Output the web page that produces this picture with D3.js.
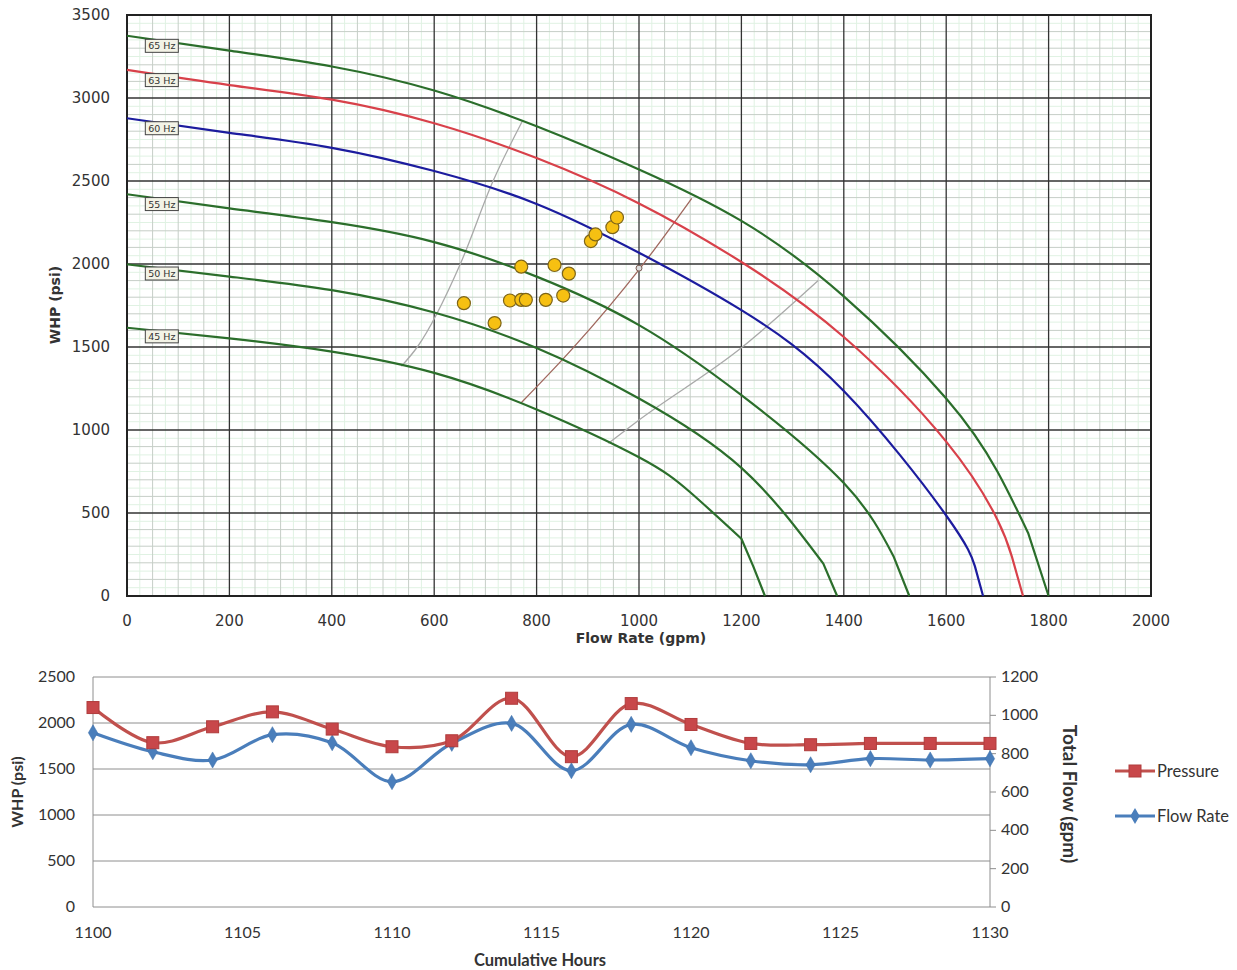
<!DOCTYPE html>
<html>
<head>
<meta charset="utf-8">
<script src="https://cdn.jsdelivr.net/npm/d3@7"></script>
<style>
  body { margin: 0; background: #fff; }
  svg { display: block; }
</style>
</head>
<body>
<svg id="chart" width="1237" height="970"></svg>
<script>
// ---- pump curve data (flow gpm, WHP psi) ----
var hz65 = [[0,3375],[200,3285],[400,3190],[600,3045],[800,2830],[1000,2570],[1200,2260],[1400,1805],[1600,1190],[1700,750],[1760,380],[1800,0]];
var hz63 = [[0,3169],[200,3078],[400,2990],[600,2848],[800,2638],[1000,2365],[1200,2012],[1400,1560],[1600,930],[1700,460],[1728,240],[1750,0]];
var hz60 = [[0,2878],[200,2790],[400,2700],[600,2560],[800,2362],[1000,2068],[1200,1722],[1400,1235],[1600,485],[1656,180],[1672,0]];
var hz55 = [[0,2420],[200,2335],[400,2252],[600,2132],[800,1924],[1000,1632],[1200,1210],[1400,680],[1497,240],[1528,0]];
var hz50 = [[0,1998],[200,1924],[400,1843],[600,1708],[800,1494],[1000,1190],[1200,772],[1360,195],[1387,0]];
var hz45 = [[0,1616],[200,1552],[400,1472],[600,1344],[800,1124],[1000,836],[1100,625],[1200,345],[1223,180],[1246,0]];
var hzCurves = [hz65, hz63, hz60, hz55, hz50, hz45];
var hzNames = ['65 Hz', '63 Hz', '60 Hz', '55 Hz', '50 Hz', '45 Hz'];
var hzColors = ['#2b6e2b', '#d8414a', '#1c1c9e', '#2b6e2b', '#2b6e2b', '#2b6e2b'];
var hzTail = [1, 1, 1, 1, 1, 2];   // straight run-out segments at the end

// operating range lines
var minLine = [[536,1384],[567,1500],[651,2000],[715,2500],[772,2860]];
var bepLine = [[770,1164],[870,1490],[1002,1974],[1103,2396]];
var maxLine = [[940,920],[1000,1060],[1200,1495],[1350,1900]];
var bepPoint = [1000, 1975];

// measured operating points
var pointFlow = [658, 718, 748, 770, 779, 818, 852, 770, 835, 863, 906, 915, 948, 957];
var pointWhp  = [1764, 1644, 1780, 1784, 1784, 1784, 1810, 1984, 1994, 1942, 2138, 2178, 2222, 2280];

// ---- time series data ----
var hours = [1100,1102,1104,1106,1108,1110,1112,1114,1116,1118,1120,1122,1124,1126,1128,1130];
var pressure = [2168,1786,1959,2121,1934,1742,1807,2269,1634,2211,1984,1778,1764,1778,1778,1778];
var flowRate = [909,810,767,899,857,654,854,958,711,953,831,763,742,774,767,774];

var svg = d3.select('#chart');

// =================== pump curve chart ===================
var x = d3.scaleLinear().domain([0, 2000]).range([127, 1151]);
var y = d3.scaleLinear().domain([0, 3500]).range([596, 15]);

var upper = svg.append('g');

// fine green grid
upper.append('g').selectAll('line')
  .data(d3.range(25, 2000, 50))
  .enter().append('line')
    .attr('x1', function(d) { return x(d); }).attr('x2', function(d) { return x(d); })
    .attr('y1', y(0)).attr('y2', y(3500))
    .style('stroke', '#e0f2e3').style('stroke-width', 1);
upper.append('g').selectAll('line')
  .data(d3.range(50, 3500, 100))
  .enter().append('line')
    .attr('y1', function(d) { return y(d); }).attr('y2', function(d) { return y(d); })
    .attr('x1', x(0)).attr('x2', x(2000))
    .style('stroke', '#e0f2e3').style('stroke-width', 1);

// minor gray grid
upper.append('g').selectAll('line')
  .data(d3.range(50, 2000, 50).filter(function(d) { return d % 200 !== 0; }))
  .enter().append('line')
    .attr('x1', function(d) { return x(d); }).attr('x2', function(d) { return x(d); })
    .attr('y1', y(0)).attr('y2', y(3500))
    .style('stroke', '#c6cec7').style('stroke-width', 1);
upper.append('g').selectAll('line')
  .data(d3.range(100, 3500, 100).filter(function(d) { return d % 500 !== 0; }))
  .enter().append('line')
    .attr('y1', function(d) { return y(d); }).attr('y2', function(d) { return y(d); })
    .attr('x1', x(0)).attr('x2', x(2000))
    .style('stroke', '#c6cec7').style('stroke-width', 1);

// major grid
upper.append('g').selectAll('line')
  .data(x.ticks(10))
  .enter().append('line')
    .attr('x1', function(d) { return x(d); }).attr('x2', function(d) { return x(d); })
    .attr('y1', y(0)).attr('y2', y(3500))
    .style('stroke', '#333').style('stroke-width', 1.3);
upper.append('g').selectAll('line')
  .data(y.ticks(7))
  .enter().append('line')
    .attr('y1', function(d) { return y(d); }).attr('y2', function(d) { return y(d); })
    .attr('x1', x(0)).attr('x2', x(2000))
    .style('stroke', '#333').style('stroke-width', 1.3);

// frame
upper.append('rect')
  .attr('x', x(0)).attr('y', y(3500))
  .attr('width', x(2000) - x(0)).attr('height', y(0) - y(3500))
  .style('fill', 'none').style('stroke', '#222').style('stroke-width', 2);

var line = d3.line()
  .x(function(d) { return x(d[0]); })
  .y(function(d) { return y(d[1]); })
  .curve(d3.curveMonotoneX);

var bodyLine = d3.line()
  .x(function(d) { return x(d[0]); })
  .y(function(d) { return y(d[1]); })
  .curve(d3.curveNatural);

function pumpPath(d, k) {
  var n = d.length, t = hzTail[k];
  var p = bodyLine(d.slice(0, n - t));
  for (var i = n - t; i < n; i++) {
    p += 'L' + x(d[i][0]) + ',' + y(d[i][1]);
  }
  return p;
}

// operating range lines
upper.append('path').attr('d', line(minLine))
  .style('fill', 'none').style('stroke', '#a9a9a9').style('stroke-width', 1.3);
upper.append('path').attr('d', line(bepLine))
  .style('fill', 'none').style('stroke', '#a0685e').style('stroke-width', 1.3);
upper.append('path').attr('d', line(maxLine))
  .style('fill', 'none').style('stroke', '#a9a9a9').style('stroke-width', 1.3);

// Hz curves
upper.append('g').selectAll('path')
  .data(hzCurves)
  .enter().append('path')
    .attr('d', pumpPath)
    .style('fill', 'none')
    .style('stroke', function(d, i) { return hzColors[i]; })
    .style('stroke-width', 2.2)
    .style('stroke-linejoin', 'round');

// BEP marker
upper.append('circle')
  .attr('cx', x(bepPoint[0])).attr('cy', y(bepPoint[1])).attr('r', 3)
  .style('fill', '#ddd').style('stroke', '#7a5a50').style('stroke-width', 1);

// measured points
upper.append('g').selectAll('circle')
  .data(pointFlow)
  .enter().append('circle')
    .attr('cx', function(d) { return x(d); })
    .attr('cy', function(d, i) { return y(pointWhp[i]); })
    .attr('r', 6.5)
    .style('fill', '#f6c012')
    .style('stroke', '#7d6418')
    .style('stroke-width', 1.2);

// Hz labels
var labelFlow = 68;
var labels = upper.append('g').selectAll('g')
  .data(hzCurves)
  .enter().append('g')
    .attr('transform', function(d) {
      var v = d[0][1] + (d[1][1] - d[0][1]) * (labelFlow - d[0][0]) / (d[1][0] - d[0][0]);
      return 'translate(' + x(labelFlow) + ',' + (y(v) + 5) + ')';
    });
labels.append('rect')
  .attr('x', -16.5).attr('y', -6.5).attr('width', 33).attr('height', 13)
  .style('fill', '#f3f3e6').style('stroke', '#444').style('stroke-width', 1);
labels.append('text')
  .attr('y', 3.5)
  .style('font-family', 'DejaVu Sans, sans-serif')
  .style('font-size', '9.5px')
  .style('fill', '#333')
  .style('text-anchor', 'middle')
  .text(function(d, i) { return hzNames[i]; });

// axes labels
upper.append('g').selectAll('text')
  .data(x.ticks(10))
  .enter().append('text')
    .attr('x', function(d) { return x(d); })
    .attr('y', 626)
    .style('font-family', 'DejaVu Sans, sans-serif')
    .style('font-size', '15px')
    .style('fill', '#333')
    .style('text-anchor', 'middle')
    .text(function(d) { return d; });
upper.append('g').selectAll('text')
  .data(y.ticks(7))
  .enter().append('text')
    .attr('x', 110)
    .attr('y', function(d) { return y(d) + 5; })
    .style('font-family', 'DejaVu Sans, sans-serif')
    .style('font-size', '15px')
    .style('fill', '#333')
    .style('text-anchor', 'end')
    .text(function(d) { return d; });

upper.append('text')
  .attr('x', 641).attr('y', 643)
  .style('font-family', 'DejaVu Sans, sans-serif')
  .style('font-size', '14px').style('font-weight', 'bold')
  .style('fill', '#333').style('text-anchor', 'middle')
  .text('Flow Rate (gpm)');
upper.append('text')
  .attr('transform', 'translate(60,305) rotate(-90)')
  .style('font-family', 'DejaVu Sans, sans-serif')
  .style('font-size', '14px').style('font-weight', 'bold')
  .style('fill', '#333').style('text-anchor', 'middle')
  .text('WHP (psi)');

// =================== time series chart ===================
var bx = d3.scaleLinear().domain([1100, 1130]).range([93, 990]);
var byL = d3.scaleLinear().domain([0, 2500]).range([907, 677]);
var byR = d3.scaleLinear().domain([0, 1200]).range([907, 677]);

var lower = svg.append('g');
var font2 = 'Lato, Open Sans, sans-serif';

lower.append('g').selectAll('line')
  .data(byL.ticks(5))
  .enter().append('line')
    .attr('x1', bx(1100)).attr('x2', bx(1130))
    .attr('y1', function(d) { return byL(d); }).attr('y2', function(d) { return byL(d); })
    .style('stroke', '#8e8e8e').style('stroke-width', 1);
lower.append('line')
  .attr('x1', bx(1100)).attr('x2', bx(1100)).attr('y1', byL(0)).attr('y2', byL(2500))
  .style('stroke', '#8e8e8e');
lower.append('line')
  .attr('x1', bx(1130)).attr('x2', bx(1130)).attr('y1', byL(0)).attr('y2', byL(2500))
  .style('stroke', '#8e8e8e');
lower.append('g').selectAll('line')
  .data(byR.ticks(6))
  .enter().append('line')
    .attr('x1', bx(1130)).attr('x2', bx(1130) + 6)
    .attr('y1', function(d) { return byR(d); }).attr('y2', function(d) { return byR(d); })
    .style('stroke', '#8e8e8e');

lower.append('g').selectAll('text')
  .data(byL.ticks(5))
  .enter().append('text')
    .attr('x', 75).attr('y', function(d) { return byL(d) + 5; })
    .style('font-family', font2).style('font-size', '16px').style('fill', '#333')
    .style('text-anchor', 'end')
    .text(function(d) { return d; });
lower.append('g').selectAll('text')
  .data(byR.ticks(6))
  .enter().append('text')
    .attr('x', 1001).attr('y', function(d) { return byR(d) + 5; })
    .style('font-family', font2).style('font-size', '16px').style('fill', '#333')
    .style('text-anchor', 'start')
    .text(function(d) { return d; });
lower.append('g').selectAll('text')
  .data(d3.range(1100, 1131, 5))
  .enter().append('text')
    .attr('x', function(d) { return bx(d); }).attr('y', 938)
    .style('font-family', font2).style('font-size', '16px').style('fill', '#333')
    .style('text-anchor', 'middle')
    .text(function(d) { return d; });

lower.append('text')
  .attr('x', 540).attr('y', 966)
  .style('font-family', font2).style('font-size', '16.5px').style('font-weight', 'bold')
  .style('fill', '#333').style('text-anchor', 'middle')
  .text('Cumulative Hours');
lower.append('text')
  .attr('transform', 'translate(23,792) rotate(-90)')
  .style('font-family', font2).style('font-size', '16px').style('font-weight', 'bold')
  .style('fill', '#333').style('text-anchor', 'middle')
  .text('WHP (psi)');
lower.append('text')
  .attr('transform', 'translate(1063,794) rotate(90)')
  .style('font-family', font2).style('font-size', '19px').style('font-weight', 'bold')
  .style('fill', '#333').style('text-anchor', 'middle')
  .text('Total Flow (gpm)');

var redLine = d3.line()
  .x(function(d, i) { return bx(hours[i]); })
  .y(function(d) { return byL(d); })
  .curve(d3.curveCatmullRom.alpha(0.5));
var blueLine = d3.line()
  .x(function(d, i) { return bx(hours[i]); })
  .y(function(d) { return byR(d); })
  .curve(d3.curveCatmullRom.alpha(0.5));

lower.append('path').attr('d', blueLine(flowRate))
  .style('fill', 'none').style('stroke', '#4a7ebb').style('stroke-width', 3.2);
lower.append('g').selectAll('path')
  .data(flowRate)
  .enter().append('path')
    .attr('transform', function(d, i) { return 'translate(' + bx(hours[i]) + ',' + byR(d) + ')'; })
    .attr('d', d3.symbol().type(d3.symbolDiamond).size(75))
    .style('fill', '#4a7ebb').style('stroke', '#3d6ea8').style('stroke-width', 0.5);

lower.append('path').attr('d', redLine(pressure))
  .style('fill', 'none').style('stroke', '#c0504d').style('stroke-width', 3.2);
lower.append('g').selectAll('rect')
  .data(pressure)
  .enter().append('rect')
    .attr('x', function(d, i) { return bx(hours[i]) - 6; })
    .attr('y', function(d) { return byL(d) - 6; })
    .attr('width', 12).attr('height', 12)
    .style('fill', '#c8474a').style('stroke', '#b03c3c').style('stroke-width', 1);

// legend
var legend = lower.append('g').attr('transform', 'translate(1115,0)');
legend.append('line').attr('x1', 0).attr('x2', 40).attr('y1', 771).attr('y2', 771)
  .style('stroke', '#c0504d').style('stroke-width', 3.2);
legend.append('rect').attr('x', 14).attr('y', 765).attr('width', 12).attr('height', 12)
  .style('fill', '#c8474a').style('stroke', '#b03c3c');
legend.append('text').attr('x', 42).attr('y', 777)
  .style('font-family', font2).style('font-size', '16.5px').style('fill', '#333')
  .text('Pressure');
legend.append('line').attr('x1', 0).attr('x2', 40).attr('y1', 816).attr('y2', 816)
  .style('stroke', '#4a7ebb').style('stroke-width', 3.2);
legend.append('path').attr('transform', 'translate(20,816)')
  .attr('d', d3.symbol().type(d3.symbolDiamond).size(75))
  .style('fill', '#4a7ebb');
legend.append('text').attr('x', 42).attr('y', 822)
  .style('font-family', font2).style('font-size', '16.5px').style('fill', '#333')
  .text('Flow Rate');
</script>
</body>
</html>
